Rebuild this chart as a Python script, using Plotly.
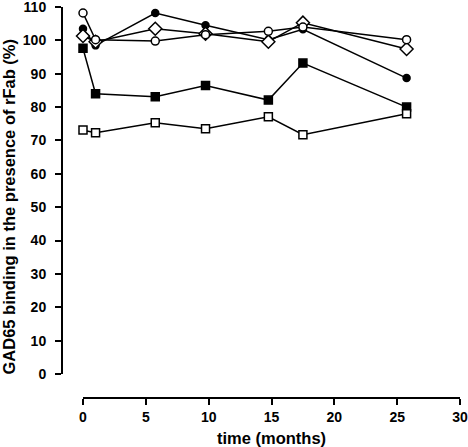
import plotly.graph_objects as go

# time points (months)
time = [0, 1, 5.75, 9.75, 14.75, 17.5, 25.75]

# GAD65 binding (%) per series
open_circle = [108.2, 100.2, 99.8, 101.7, 102.7, 104.0, 100.2]
filled_circle = [103.5, 98.5, 108.2, 104.5, 100.2, 103.3, 88.7]
open_diamond = [101.3, 99.6, 103.5, 102.0, 99.6, 105.3, 97.4]
filled_square = [97.6, 84.0, 83.1, 86.5, 82.1, 93.2, 80.0]
open_square = [73.1, 72.3, 75.3, 73.5, 77.1, 71.7, 78.0]

# (values, symbol, fill, size)
series = [
    (filled_square, "square", "black", 8),
    (open_square, "square", "white", 8),
    (filled_circle, "circle", "black", 7),
    (open_diamond, "diamond", "white", 10),
    (open_circle, "circle", "white", 8),
]

fig = go.Figure()
for values, symbol, fill, size in series:
    fig.add_trace(go.Scatter(
        x=time, y=values, mode="lines+markers",
        line=dict(color="black", width=1.5),
        marker=dict(symbol=symbol, size=size, color=fill,
                    line=dict(color="black", width=1.5)),
        cliponaxis=False,
        showlegend=False,
    ))

tick_font = dict(family="Liberation Sans", size=14, color="black", weight="bold")

fig.update_layout(
    width=468,
    height=447,
    margin=dict(l=62, r=8, t=7, b=49),
    plot_bgcolor="white",
    paper_bgcolor="white",
    xaxis=dict(
        domain=[21 / 398, 1],
        range=[0, 30],
        anchor="free",
        position=0,
        automargin=False,
        tickvals=[0, 5, 10, 15, 20, 25, 30],
        showgrid=False, zeroline=False,
        showline=True, linecolor="black", linewidth=2,
        ticks="outside", ticklen=6, tickwidth=2, tickcolor="black",
        ticklabeloverflow="allow",
        tickfont=tick_font,
    ),
    yaxis=dict(
        domain=[24 / 391, 1],
        range=[0, 110],
        anchor="free",
        position=0,
        automargin=False,
        tickvals=list(range(0, 111, 10)),
        showgrid=False, zeroline=False,
        showline=True, linecolor="black", linewidth=2,
        ticks="outside", ticklen=6, tickwidth=2, tickcolor="black",
        ticklabelstandoff=6,
        ticklabeloverflow="allow",
        tickfont=tick_font,
    ),
    annotations=[
        dict(text="time (months)", xref="paper", yref="paper",
             x=(271.5 - 62) / 398, y=(398 - 438) / 391,
             xanchor="center", yanchor="middle", showarrow=False,
             font=dict(family="Liberation Sans", size=16.5, color="black", weight="bold")),
        dict(text="GAD65 binding in the presence of rFab (%)", xref="paper", yref="paper",
             x=(8.5 - 62) / 398, y=(398 - 207) / 391, textangle=-90,
             xanchor="center", yanchor="middle", showarrow=False,
             font=dict(family="Liberation Sans", size=16.5, color="black", weight="bold")),
    ],
)

# drop the page's default body margin so the figure sits at the window's corner
fig.write_html("out.html", config={"displayModeBar": False},
               post_script="document.body.style.margin='0';")
